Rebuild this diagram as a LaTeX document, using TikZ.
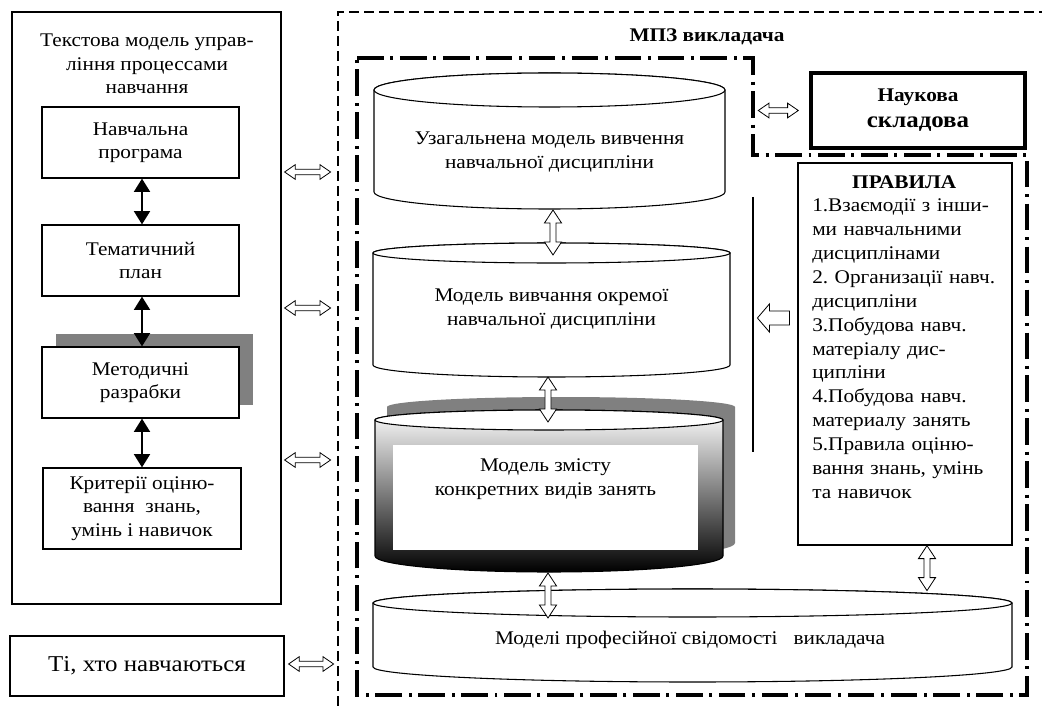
\documentclass[tikz,border=0pt]{standalone}
\usepackage{fontspec}
\setmainfont{Liberation Serif}[FakeStretch=1.1]
\usetikzlibrary{arrows.meta,calc,shadows}
\frenchspacing

% cylinder: [style]{name}{x left}{x right}{y top}{y bottom}{top radius}{bottom radius}
\newcommand{\drum}[8][fill=white]{%
  \draw[line width=0.8pt, #1] (#3,#5) -- (#3,#6)
    arc[start angle=180, end angle=0, x radius={(#4-#3)/2}, y radius=#8]
    -- (#4,#5)
    arc[start angle=0, end angle=-180, x radius={(#4-#3)/2}, y radius=#7] -- cycle;
  \draw[line width=0.8pt, fill=white] ({(#3+#4)/2},#5)
    ellipse [x radius={(#4-#3)/2}, y radius=#7];
  \coordinate (#2-top) at ({(#3+#4)/2},#5-#7);
  \coordinate (#2-bot) at ({(#3+#4)/2},#6+#8);
}

\begin{document}
\begin{tikzpicture}[x=0.75pt, y=-0.75pt,
  font=\fontsize{14.5}{17.6}\selectfont,
  box/.style={draw, line width=0.9pt, align=center, inner sep=2pt},
  lbox/.style={box, minimum width=147.75pt, minimum height=53.25pt},
  blk/.style={line width=1.5pt,
              {Triangle[width=12pt,length=10pt]}-{Triangle[width=12pt,length=10pt]}},
  hollow/.style={draw, fill=white, line width=0.6pt},
  % horizontal double block arrow
  hdbl/.style={hollow, to path={
      let \p1=(\tikztostart), \p2=(\tikztotarget) in
      (\x1,\y1) -- (\x1+8pt,\y1+5.5pt) -- (\x1+8pt,\y1+2pt)
      -- (\x2-8pt,\y1+2pt) -- (\x2-8pt,\y1+5.5pt) -- (\x2,\y1)
      -- (\x2-8pt,\y1-5.5pt) -- (\x2-8pt,\y1-2pt)
      -- (\x1+8pt,\y1-2pt) -- (\x1+8pt,\y1-5.5pt) -- cycle}},
  % vertical double block arrow (start on top)
  vdbl/.style={hollow, to path={
      let \p1=(\tikztostart), \p2=(\tikztotarget) in
      (\x1,\y1) -- (\x1+6.4pt,\y1-9.75pt) -- (\x1+2.3pt,\y1-9.75pt)
      -- (\x1+2.3pt,\y2+9.75pt) -- (\x1+6.4pt,\y2+9.75pt) -- (\x1,\y2)
      -- (\x1-6.4pt,\y2+9.75pt) -- (\x1-2.3pt,\y2+9.75pt)
      -- (\x1-2.3pt,\y1-9.75pt) -- (\x1-6.4pt,\y1-9.75pt) -- cycle}},
  % single block arrow, head at the target
  lft/.style={hollow, to path={
      let \p1=(\tikztostart), \p2=(\tikztotarget) in
      (\x2,\y1) -- (\x2+9pt,\y1+10.5pt) -- (\x2+9pt,\y1+5.25pt)
      -- (\x1,\y1+5.25pt) -- (\x1,\y1-5.25pt) -- (\x2+9pt,\y1-5.25pt)
      -- (\x2+9pt,\y1-10.5pt) -- cycle}},
  dashdot/.style={line width=3pt, dash pattern=on 20pt off 5pt on 2.2pt off 5pt},
  ]

\useasboundingbox (0,0) rectangle (1042,706);

% ======================================================================
% LEFT: text model
% ======================================================================
\node[box, minimum width=201.75pt, minimum height=444pt] (left) at (146.5,308) {};
\node[align=center] (title) at (147,64)
  {Текстова модель управ-\\ління процессами\\навчання};

\node[lbox] (prog) at (140.5,142.5) {Навчальна\\програма};
\node[lbox] (plan) at (140.5,260.5) {Тематичний\\план};
\node[lbox, fill=white, drop shadow={shadow xshift=10.5pt, shadow yshift=9.75pt,
      fill=black!50, opacity=1}]
  (meth) at (140.5,382.5) {Методичні\\разрабки};
\node[box, minimum width=148.5pt, minimum height=60.75pt]
  (crit) at (142,508.5) {Критерії оціню-\\вання~ знань,\\умінь і навичок};

\draw[blk] ($(prog.south)+(1.5,0)$) -- ($(plan.north)+(1.5,0)$);
\draw[blk] ($(plan.south)+(1.5,0)$) -- ($(meth.north)+(1.5,0)$);
\draw[blk] ($(meth.south)+(1.5,0)$) -- ($(crit.north)+(0,0)$);

\node[box, minimum width=205.5pt, minimum height=45pt, font=\fontsize{17}{20}\selectfont]
  (learn) at (147,666) {Ті, хто навчаються};

% ======================================================================
% Frames
% ======================================================================
\coordinate (frame) at (338,12);
\draw[line width=1.1pt, dash pattern=on 7.5pt off 3.75pt]
  (338,706) -- (frame) -- (1042,12);

\node[font=\fontsize{14.5}{17.6}\selectfont\bfseries] (mpz) at (707,37) {МПЗ викладача};

\coordinate (dd) at (753,58);
\draw[dashdot] (357,58) -- (dd) -- (753,155) -- (1027,155) -- (1027,695)
  -- (357,695) -- cycle;

% links to the frame
\foreach \dy in {-136,0,152}
  \draw[hdbl] ($(left.east)+(3,\dy)$) to ($(left.east)+(49,\dy)$);
\draw[hdbl] ($(learn.east)+(4,-2)$) to ($(learn.east)+(49,-2)$);

% ======================================================================
% RIGHT: science and rules
% ======================================================================
\node[box, line width=2.6pt, minimum width=160.5pt, minimum height=56.25pt]
  (sci) at (918,110.5)
  {\textbf{Наукова}\\[2pt]{\fontsize{17}{19}\selectfont\bfseries складова}};
\draw[hdbl] ($(sci.west)+(-51,0)$) to ($(sci.west)+(-11,0)$);

\node[box, minimum width=160.5pt, minimum height=286.5pt] (rules) at (905,354) {};
\node[anchor=north west, align=left, inner sep=0pt, text width=155pt,
      font=\fontsize{14.5}{17.9}\selectfont]
  (rtext) at (812,175)
  {\makebox[138pt]{\textbf{ПРАВИЛА}}\\
   1.Взаємодії з інши-\\
   ми навчальними\\
   дисциплінами\\
   2. Организації навч.\\
   дисципліни\\
   3.Побудова навч.\\
   матеріалу дис-\\
   ципліни\\
   4.Побудова навч.\\
   материалу занять\\
   5.Правила оціню-\\
   вання знань, умінь\\
   та навичок};

\coordinate (vt) at (753,197);
\coordinate (vb) at (753,452);
\draw[line width=1.1pt] (vt) -- (vb);
\draw[lft] ($(rules.west)+(-8,-36)$) to ($(rules.west)+(-40,-36)$);

% ======================================================================
% CENTRE: cylinders
% ======================================================================
\drum{gen}{374}{725}{90}{192}{17}{17}
\node[align=center] (genT) at (549.5,152)
  {Узагальнена модель вивчення\\навчальної дисципліни};

\drum{mod}{373}{730}{253}{365}{10}{12}
\node[align=center] (modT) at (551.5,309)
  {Модель вивчання окремої\\навчальної дисципліни};

% shadow of the third one
\fill[black!50] (387,407) -- (387,543)
  arc[start angle=180, end angle=0, x radius=174, y radius=16]
  -- (735,407) arc[start angle=0, end angle=-180, x radius=174, y radius=10] -- cycle;
\drum[top color=white, middle color=black!45, bottom color=black]{cnt}{375}{723}{420}{556}{10}{16}
\node[fill=white, minimum width=228.75pt, minimum height=78.75pt, align=center]
  (cnt) at (545.5,497.5) {};
\node[align=center] (cntT) at (545.5,479)
  {Модель змісту\\конкретних видів занять};

\drum{prof}{373}{1012}{603}{667}{14}{15}
\node (profT) at (690,640) {Моделі професійної свідомості~~ викладача};

% ======================================================================
% Arrows between the models
% ======================================================================
\draw[vdbl] ($(gen-bot)+(3.5,1)$) to ($(mod-top)+(1.5,12)$);
\draw[vdbl] ($(mod-bot)+(-3.5,0)$) to ($(cnt-top)+(-1,12)$);
\draw[vdbl] ($(cnt-bot)+(-1,1)$) to ($(cnt-bot)+(-1,46)$);
\draw[vdbl] ($(rules.south)+(22,0)$) to ($(rules.south)+(22,45)$);

\end{tikzpicture}
\end{document}
